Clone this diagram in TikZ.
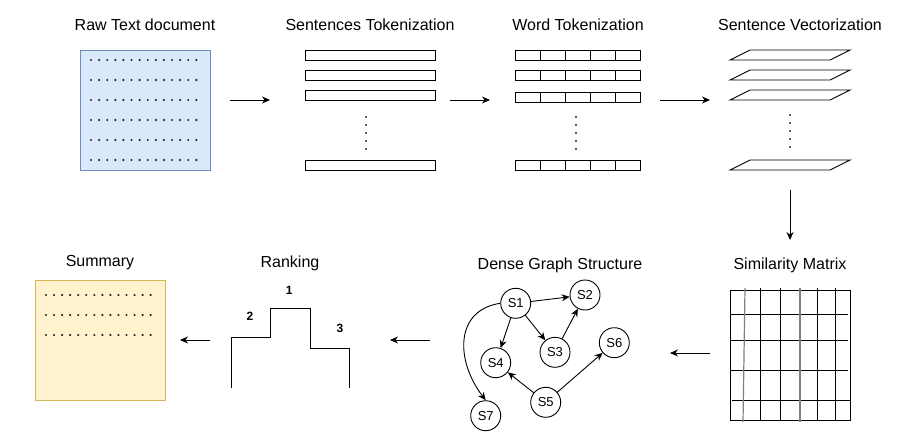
\documentclass[tikz,border=0pt]{standalone}
\usepackage{fontspec}
\setmainfont{Liberation Sans}
\usetikzlibrary{arrows.meta}
\definecolor{bluefill}{HTML}{DAE8FC}
\definecolor{bluestroke}{HTML}{6C8EBF}
\definecolor{yelfill}{HTML}{FFF2CC}
\definecolor{yelstroke}{HTML}{D6B656}
\tikzset{
  title/.style={font=\fontsize{16}{19}\selectfont, inner sep=0pt},
  flow/.style={draw, line width=0.9pt, -{Stealth[length=8pt,width=7pt]}},
  gnode/.style={draw, circle, minimum size=30pt, inner sep=0pt, line width=0.9pt, fill=white, font=\fontsize{13}{15}\selectfont},
  gedge/.style={draw, line width=0.9pt, -{Stealth[length=8pt,width=7pt]}},
  lineshape/.style={draw, line width=0.9pt},
  rank/.style={font=\fontsize{12}{14}\selectfont\bfseries, inner sep=0pt},
  dotm/.style={fill=black!85, draw=none}
}
\begin{document}
\begin{tikzpicture}[x=1pt,y=-1pt]
\useasboundingbox (0,0) rectangle (901,441);

% titles
\node[title] (t1) at (145,25) {Raw Text document};
\node[title] (t2) at (370,25) {Sentences Tokenization};
\node[title] (t3) at (578,25) {Word Tokenization};
\node[title] (t4) at (800,25) {Sentence Vectorization};
\node[title] (t5) at (790,265) {Similarity Matrix};
\node[title] (t6) at (560,265) {Dense Graph Structure};
\node[title] (t7) at (290,263) {Ranking};
\node[title] (t8) at (100,263) {Summary};

% raw text box
\draw[fill=bluefill, draw=bluestroke, line width=0.9pt] (80,50) rectangle (210,170);
\foreach \r in {0,...,5}{
  \foreach \c in {0,...,13}{
    \fill[dotm] (91+\c*8.1,60+\r*20) circle (1.2pt);
  }
}

% sentences tokenization
\foreach \y in {50,70,90,160}{
  \draw[lineshape] (305,\y) rectangle (435,\y+10);
}
\foreach \k in {0,...,4}{ \fill[dotm] (366,117+\k*8) circle (1.2pt); }

% word tokenization
\foreach \y in {50,70,92,160}{
  \draw[lineshape] (515,\y) rectangle (640,\y+10);
  \foreach \xx in {540,565,590,615}{ \draw[lineshape] (\xx,\y) -- (\xx,\y+10); }
}
\foreach \k in {0,...,4}{ \fill[dotm] (576,117+\k*8) circle (1.2pt); }

% sentence vectorization
\foreach \y in {50,70,90,160}{
  \draw[lineshape] (730,\y+10) -- (830,\y+10) -- (850,\y) -- (750,\y) -- cycle;
}
\foreach \k in {0,...,4}{ \fill[dotm] (790,115+\k*8) circle (1.2pt); }

% similarity matrix
\draw[lineshape] (730,290) rectangle (850,420);
\foreach \yy in {314,340,370}{ \draw[lineshape] (730,\yy) -- (848,\yy); }
\draw[lineshape] (732,400) -- (850,400);
\foreach \xx in {760,780,817,835}{ \draw[lineshape] (\xx,288) -- (\xx,420); }
\draw[line width=1.2pt, draw=black!50] (745,288) -- (743,422);
\draw[line width=2pt, draw=black!50] (800,288) -- (800,422);

% graph
\node[gnode] (s1) at (515.7,303.3) {S1};
\node[gnode] (s2) at (585,295) {S2};
\node[gnode] (s3) at (555,352.3) {S3};
\node[gnode] (s4) at (495.7,362.7) {S4};
\node[gnode] (s5) at (545.7,402.3) {S5};
\node[gnode] (s6) at (614.3,342.7) {S6};
\node[gnode] (s7) at (485.7,415.7) {S7};
\draw[gedge] (s1) -- (s2);
\draw[gedge] (s1) -- (s4);
\draw[gedge] (s1) -- (s3);
\draw[gedge] (s3) -- (s2);
\draw[gedge] (s5) -- (s4);
\draw[gedge] (s5) -- (s6);
\draw[gedge] (s1.west) .. controls (455,310) and (455,360) .. (s7.north);

% ranking
\draw[lineshape] (231.7,388.3) -- (231.7,337.3) -- (270.7,337.3) -- (270.7,308.3) -- (310,308.3) -- (310,348.3) -- (349.3,348.3) -- (349.3,388.3);
\node[rank] (r1) at (289.3,290.7) {1};
\node[rank] (r2) at (250,316) {2};
\node[rank] (r3) at (340,328.3) {3};

% summary box
\draw[fill=yelfill, draw=yelstroke, line width=0.9pt] (35,280) rectangle (165.7,400);
\foreach \r in {0,...,2}{
  \foreach \c in {0,...,13}{
    \fill[dotm] (46+\c*8.05,295+\r*20) circle (1.2pt);
  }
}

% flow arrows
\coordinate (a1s) at (230,100); \coordinate (a1e) at (270,100);
\coordinate (a2s) at (450,100); \coordinate (a2e) at (490,100);
\coordinate (a3s) at (660,100); \coordinate (a3e) at (710,100);
\coordinate (a4s) at (790,190); \coordinate (a4e) at (790,240);
\coordinate (a5s) at (710,353); \coordinate (a5e) at (670,353);
\coordinate (a6s) at (430,340); \coordinate (a6e) at (390,340);
\coordinate (a7s) at (210,340); \coordinate (a7e) at (180,340);
\draw[flow] (a1s) -- (a1e);
\draw[flow] (a2s) -- (a2e);
\draw[flow] (a3s) -- (a3e);
\draw[flow] (a4s) -- (a4e);
\draw[flow] (a5s) -- (a5e);
\draw[flow] (a6s) -- (a6e);
\draw[flow] (a7s) -- (a7e);
\end{tikzpicture}
\end{document}
